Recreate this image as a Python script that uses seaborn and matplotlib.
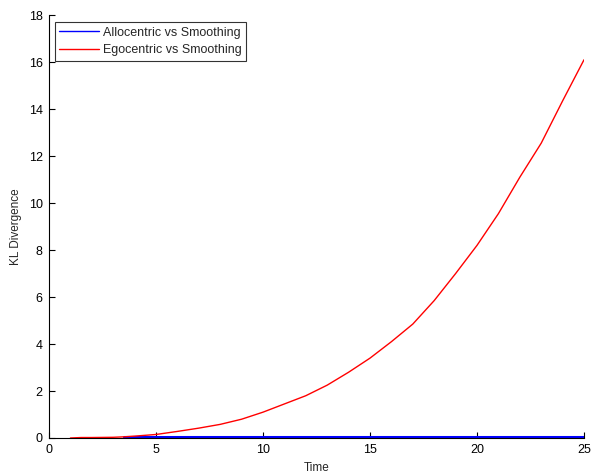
import matplotlib
matplotlib.use("Agg")
import matplotlib.pyplot as plt
import seaborn as sns
import pandas as pd

# KL divergence over time for the two models against the smoothing baseline
ego_time = [1, 1.5, 2, 3, 3.5, 4, 5, 6, 7, 8, 9, 10, 11, 12, 13, 14, 15, 16, 17,
            18, 19, 20, 21, 22, 23, 24, 25]
ego_kl = [0.0, 0.02, 0.02, 0.03, 0.05, 0.08, 0.15, 0.28, 0.42, 0.58, 0.8, 1.1,
          1.45, 1.8, 2.25, 2.8, 3.4, 4.1, 4.85, 5.85, 7.0, 8.2, 9.55, 11.1,
          12.55, 14.35, 16.1]

allo_time = [3.5, 4, 5, 6, 7, 8, 9, 10, 11, 12, 13, 14, 15, 16, 17, 18, 19, 20,
             21, 22, 23, 24, 25]
allo_kl = [0.05, 0.05, 0.05, 0.05, 0.05, 0.05, 0.05, 0.05, 0.05, 0.05, 0.05,
           0.05, 0.05, 0.05, 0.05, 0.05, 0.05, 0.05, 0.05, 0.05, 0.05, 0.05, 0.05]

x_ticks = [0, 5, 10, 15, 20, 25]
y_ticks = [0, 2, 4, 6, 8, 10, 12, 14, 16, 18]

allo = pd.DataFrame({"Time": allo_time, "KL": allo_kl,
                     "Pair": "Allocentric vs Smoothing"})
ego = pd.DataFrame({"Time": ego_time, "KL": ego_kl,
                    "Pair": "Egocentric vs Smoothing"})

sns.set_style("ticks")
plt.rcParams["font.family"] = ["Liberation Sans", "DejaVu Sans"]

fig = plt.figure(figsize=(5.92, 4.73), dpi=100)
ax = fig.add_axes([0.0828, 0.074, 0.9037, 0.894])

sns.lineplot(data=allo, x="Time", y="KL", color="#0000ff", linewidth=2.2,
             label="Allocentric vs Smoothing", ax=ax)
sns.lineplot(data=ego, x="Time", y="KL", color="#ff0000", linewidth=1.0,
             label="Egocentric vs Smoothing", ax=ax)

ax.set_xlim(0, 25)
ax.set_ylim(0, 18)
ax.set_xticks(x_ticks)
ax.set_yticks(y_ticks)
ax.tick_params(direction="in", length=4, width=0.8, labelsize=9,
               colors="black", pad=4.5)
for side in ("top", "right"):
    ax.spines[side].set_visible(False)
for side in ("left", "bottom"):
    ax.spines[side].set_color("black")
    ax.spines[side].set_linewidth(0.8)

ax.set_xlabel("Time", fontsize=8.5, labelpad=4)
ax.set_ylabel("KL Divergence", fontsize=8.5, labelpad=5)

leg = ax.legend(loc="upper left", bbox_to_anchor=(0.011, 0.983), fontsize=9,
                frameon=True, fancybox=False, handlelength=3.2,
                handletextpad=0.3, borderpad=0.35, labelspacing=0.45,
                borderaxespad=0)
leg.get_frame().set_edgecolor("black")
leg.get_frame().set_linewidth(0.8)
for line in leg.get_lines():
    line.set_linewidth(1.0)

fig.savefig("out.png", dpi=100)
